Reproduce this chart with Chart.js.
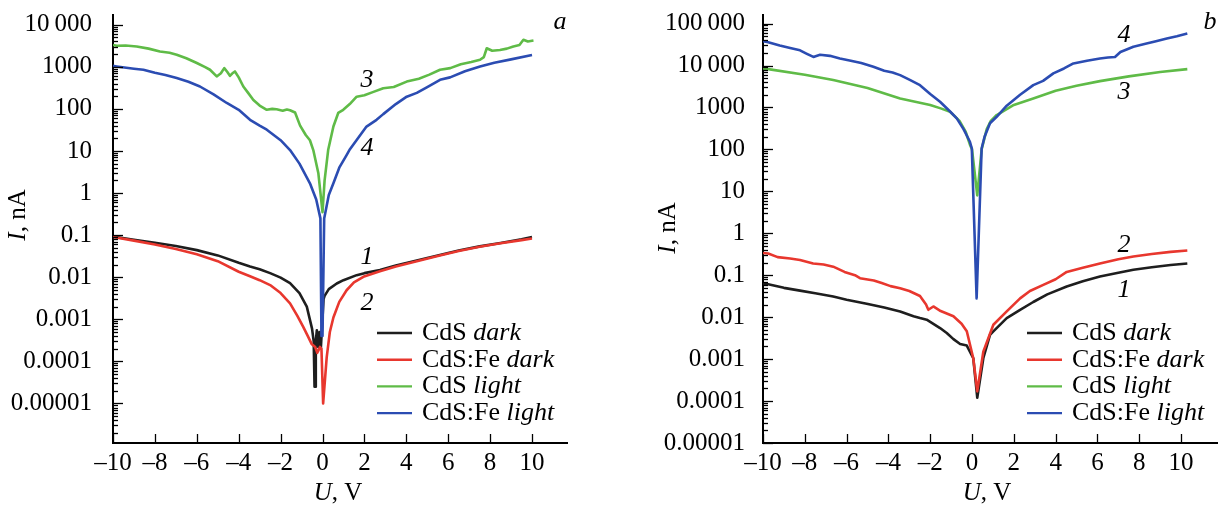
<!DOCTYPE html>
<html>
<head>
<meta charset="utf-8">
<script src="https://cdn.jsdelivr.net/npm/chart.js@4.4.1/dist/chart.umd.min.js"></script>
<style>
  html, body { margin: 0; padding: 0; background: #fff; }
  #wrap { position: relative; width: 1218px; height: 509px; }
  canvas { position: absolute; top: 0; }
  #panelA { left: 0; }
  #panelB { left: 609px; }
</style>
</head>
<body>
<div id="wrap">
  <canvas id="panelA" width="609" height="509"></canvas>
  <canvas id="panelB" width="609" height="509"></canvas>
</div>
<script>
// tick labels
const uTicks = [-10, -8, -6, -4, -2, 0, 2, 4, 6, 8, 10];
const aTickVals = [1e-5, 1e-4, 1e-3, 1e-2, 0.1, 1, 10, 100, 1000, 10000];
const aTickText = ["0.00001", "0.0001", "0.001", "0.01", "0.1", "1", "10", "100", "1000", "10\u2009000"];
const bTickVals = [1e-5, 1e-4, 1e-3, 1e-2, 0.1, 1, 10, 100, 1000, 10000, 100000];
const bTickText = ["0.00001", "0.0001", "0.001", "0.01", "0.1", "1", "10", "100", "1000", "10\u2009000", "100\u2009000"];

// legend / curve labels
const legendNames = ["CdS", "CdS:Fe", "CdS", "CdS:Fe"];
const legendModes = ["dark", "dark", "light", "light"];
const curveNums = ["1", "2", "3", "4"];
const colors = ["#1e1e1e", "#e8372e", "#5fbb47", "#2b4cb2"];

// panel a: U (V) and I (nA)
const aU1 = [-10, -9, -8, -7, -6, -5, -4, -3.46, -3, -2.5, -2, -1.55, -1.1, -0.75, -0.5, -0.42, -0.38, -0.35, -0.32, -0.27, -0.2, -0.14, -0.08, 0.05, 0.1, 0.3, 0.68, 1.0, 1.63, 2.0, 2.74, 3.5, 4.5, 5.5, 6.5, 7.5, 8.5, 9.5, 10];
const aI1 = [0.092, 0.078, 0.066, 0.055, 0.044, 0.033, 0.022, 0.018, 0.0155, 0.0125, 0.0098, 0.0072, 0.0042, 0.002, 0.0006, 0.0003, 0.000025, 0.000025, 0.0003, 0.00055, 0.00022, 0.0005, 0.0002, 0.003, 0.0036, 0.0052, 0.0071, 0.0085, 0.0112, 0.0125, 0.0148, 0.019, 0.025, 0.033, 0.043, 0.054, 0.065, 0.08, 0.09];
const aU2 = [-10, -9, -8, -7, -6, -5, -4, -3.46, -3, -2.5, -2, -1.55, -1.2, -0.92, -0.7, -0.52, -0.35, -0.25, -0.2, -0.12, -0.05, 0.03, 0.2, 0.35, 0.52, 0.8, 1.15, 1.5, 1.95, 2.74, 3.5, 4.5, 5.5, 6.5, 7.5, 8.5, 9.5, 10];
const aI2 = [0.09, 0.074, 0.06, 0.047, 0.035, 0.024, 0.0135, 0.0105, 0.0085, 0.0065, 0.0042, 0.0024, 0.0012, 0.00066, 0.0004, 0.00026, 0.00022, 0.00016, 0.00018, 0.00022, 0.0002, 0.00001, 0.000125, 0.0005, 0.0011, 0.0026, 0.0049, 0.0075, 0.0102, 0.0138, 0.018, 0.024, 0.032, 0.042, 0.053, 0.064, 0.076, 0.083];
const aU3 = [-10, -9.82, -9.4, -8.87, -8.3, -7.76, -7.3, -6.96, -6.5, -6.0, -5.6, -5.37, -5.05, -4.85, -4.69, -4.55, -4.42, -4.3, -4.18, -4.0, -3.78, -3.55, -3.3, -3.0, -2.66, -2.4, -2.19, -1.9, -1.7, -1.55, -1.31, -1.07, -0.8, -0.6, -0.44, -0.2, 0, 0.1, 0.27, 0.52, 0.75, 0.99, 1.3, 1.63, 2.0, 2.4, 2.9, 3.4, 4.02, 4.6, 5.1, 5.61, 6.1, 6.6, 7.1, 7.52, 7.7, 7.84, 8.1, 8.47, 8.8, 9.11, 9.4, 9.59, 9.8, 10.07];
const aI3 = [3300, 3160, 3200, 3040, 2700, 2300, 2150, 1940, 1600, 1230, 980, 850, 590, 700, 930, 760, 610, 700, 775, 560, 340, 240, 163, 120, 95, 100, 98, 90, 97, 93, 82, 40, 24, 18, 10.5, 3, 0.35, 2, 10.5, 38, 80, 95, 130, 195, 210, 250, 310, 330, 445, 520, 650, 850, 930, 1150, 1300, 1470, 1700, 2760, 2400, 2500, 2700, 3050, 3300, 4400, 4000, 4200];
const aU4 = [-10, -9.82, -9, -8.55, -8, -7.5, -6.96, -6.4, -5.85, -5.2, -4.57, -4, -3.46, -3, -2.66, -2, -1.55, -1.1, -0.6, -0.3, -0.1, -0.05, 0, 0.08, 0.3, 0.52, 0.8, 1.15, 1.31, 2.1, 2.58, 2.9, 3.5, 4.02, 4.5, 5.0, 5.61, 6.09, 6.8, 7.52, 8.2, 9.0, 10];
const aI4 = [1050, 1020, 900, 850, 720, 640, 540, 440, 340, 220, 138, 95, 55, 40, 32, 18, 10.5, 5, 1.7, 0.7, 0.25, 0.0004, 0.0004, 0.25, 0.9, 1.7, 4, 8, 11, 38, 55, 75, 130, 195, 240, 330, 490, 560, 780, 1020, 1250, 1500, 1900];

// panel b
const bU1 = [-10, -9.75, -9, -8.23, -7.5, -6.64, -6, -5.04, -4.2, -3.44, -2.8, -2.49, -2.17, -1.53, -1.21, -0.89, -0.57, -0.25, 0.06, 0.25, 0.54, 0.86, 1.02, 1.66, 2.3, 2.93, 3.6, 4.53, 5.3, 6.12, 7.0, 7.72, 8.6, 9.5, 10.3];
const bI1 = [0.062, 0.061, 0.05, 0.043, 0.037, 0.031, 0.026, 0.021, 0.017, 0.0137, 0.0105, 0.0095, 0.0087, 0.0055, 0.0042, 0.003, 0.0023, 0.0021, 0.00105, 0.00012, 0.00105, 0.0038, 0.0046, 0.0095, 0.015, 0.023, 0.035, 0.054, 0.072, 0.093, 0.115, 0.135, 0.155, 0.175, 0.19];
const bU2 = [-10, -9.75, -9.3, -8.7, -8.23, -7.6, -7.1, -6.64, -6.1, -5.6, -5.36, -4.7, -4.32, -3.9, -3.44, -3.0, -2.49, -2.2, -2.09, -1.85, -1.5, -0.89, -0.5, -0.25, 0.06, 0.25, 0.54, 1.02, 1.66, 2.3, 2.77, 3.41, 4.0, 4.53, 5.3, 6.12, 7.0, 7.72, 8.6, 9.5, 10.3];
const bI2 = [0.34, 0.33, 0.27, 0.25, 0.23, 0.19, 0.18, 0.16, 0.12, 0.1, 0.085, 0.075, 0.065, 0.055, 0.049, 0.042, 0.032, 0.02, 0.015, 0.018, 0.014, 0.0105, 0.007, 0.0046, 0.00105, 0.00017, 0.0015, 0.0066, 0.0138, 0.028, 0.042, 0.059, 0.08, 0.12, 0.15, 0.19, 0.24, 0.28, 0.32, 0.36, 0.39];
const bU3 = [-10, -9.75, -8, -6.64, -5, -3.44, -2, -1.5, -1.05, -0.6, -0.3, -0.1, 0, 0.25, 0.46, 0.7, 0.9, 1.18, 2, 2.93, 4, 5, 6.12, 7.5, 9, 10.3];
const bI3 = [8500, 8200, 6000, 4500, 2900, 1630, 1150, 950, 790, 480, 260, 130, 100, 8, 100, 300, 480, 660, 1150, 1630, 2500, 3300, 4240, 5500, 7000, 8200];
const bU4 = [-10, -9.75, -9.2, -8.7, -8.23, -7.9, -7.59, -7.27, -6.8, -6.32, -5.8, -5.3, -4.72, -4.2, -3.8, -3.44, -3.0, -2.49, -2.0, -1.53, -1.05, -0.73, -0.4, -0.1, -0.01, 0.22, 0.46, 0.6, 0.86, 1.18, 1.66, 2.3, 2.93, 3.4, 3.89, 4.4, 4.85, 5.5, 6.12, 6.5, 6.84, 7.1, 7.72, 8.3, 8.8, 9.32, 9.8, 10.3];
const bI4 = [38000, 36000, 30000, 26000, 23000, 19000, 16000, 18000, 17000, 14700, 13000, 11500, 9300, 7500, 6800, 5900, 4600, 3400, 2100, 1370, 800, 550, 300, 152, 105, 0.028, 105, 200, 420, 600, 1100, 2000, 3400, 4300, 6500, 8500, 11200, 13000, 14700, 15500, 16000, 21000, 28000, 33000, 38000, 44000, 50000, 58000];

const FONT = '"Liberation Serif", "Times New Roman", serif';
const TICK_SIZE = 25;
const fontOf = (italic, size) => (italic ? "italic " : "") + size + "px " + FONT;

// draws text made of plain and italic pieces
function richText(ctx, parts, x, y, align, size) {
  let w = 0;
  parts.forEach(([t, it]) => { ctx.font = fontOf(it, size); w += ctx.measureText(t).width; });
  let cx = align === "center" ? x - w / 2 : x;
  ctx.textAlign = "left";
  ctx.textBaseline = "middle";
  ctx.fillStyle = "#000";
  parts.forEach(([t, it]) => {
    ctx.font = fontOf(it, size);
    ctx.fillText(t, cx, y);
    cx += ctx.measureText(t).width;
  });
}

function decor(p) {
  return {
    id: "decor",
    afterDraw(chart) {
      const ctx = chart.ctx;
      const area = chart.chartArea;
      const xs = chart.scales.x;
      const ys = chart.scales.y;
      ctx.save();

      // inward tick marks
      ctx.strokeStyle = "#000";
      ctx.lineWidth = 1.3;
      const lo = Math.floor(Math.log10(ys.min));
      const hi = Math.ceil(Math.log10(ys.max));
      for (let d = lo; d <= hi; d++) {
        for (let m = 1; m <= 9; m++) {
          const v = m * Math.pow(10, d);
          if (v < ys.min || v > ys.max) continue;
          const py = Math.round(ys.getPixelForValue(v)) + 0.5;
          ctx.beginPath();
          ctx.moveTo(area.left, py);
          ctx.lineTo(area.left + (m === 1 ? 10 : 5), py);
          ctx.stroke();
        }
      }
      uTicks.forEach((v) => {
        const px = Math.round(xs.getPixelForValue(v)) + 0.5;
        ctx.beginPath();
        ctx.moveTo(px, area.bottom);
        ctx.lineTo(px, area.bottom - 9);
        ctx.stroke();
      });

      // axis titles
      ctx.save();
      ctx.translate(p.yTitle[0], p.yTitle[1]);
      ctx.rotate(-Math.PI / 2);
      richText(ctx, [["I", true], [", nA", false]], 0, 0, "center", 25);
      ctx.restore();
      richText(ctx, [["U", true], [", V", false]], p.xTitle[0], p.xTitle[1], "center", 25);

      // legend
      legendNames.forEach((name, k) => {
        const y = p.legend[1] + k * 26.7;
        ctx.strokeStyle = colors[k];
        ctx.lineWidth = 2.4;
        ctx.beginPath();
        ctx.moveTo(p.legend[0], y);
        ctx.lineTo(p.legend[0] + 35, y);
        ctx.stroke();
        richText(ctx, [[name + " ", false], [legendModes[k], true]], p.legend[0] + 45, y, "left", 26);
      });

      // curve numbers and panel letter
      curveNums.forEach((n, k) => {
        richText(ctx, [[n, true]], p.nums[k][0], p.nums[k][1], "center", 26);
      });
      richText(ctx, [[p.letter, true]], p.letterPos[0], p.letterPos[1], "center", 26);
      ctx.restore();
    },
  };
}

const pts = (u, i) => u.map((x, k) => ({ x: x, y: i[k] }));

function makePanel(id, p) {
  const drawOrder = [3, 1, 2, 0];
  new Chart(document.getElementById(id), {
    type: "line",
    data: {
      datasets: p.series.map((s, k) => ({
        data: pts(s[0], s[1]),
        borderColor: colors[k],
        borderWidth: 2.6,
        pointRadius: 0,
        tension: 0,
        borderJoinStyle: "round",
        order: drawOrder[k],
      })),
    },
    options: {
      responsive: false,
      animation: false,
      layout: { padding: { top: 15, right: p.padRight, left: 0, bottom: 0 } },
      plugins: { legend: { display: false }, tooltip: { enabled: false } },
      scales: {
        x: {
          type: "linear",
          min: -10,
          max: p.xMax,
          afterBuildTicks: (s) => { s.ticks = uTicks.map((v) => ({ value: v })); },
          afterFit: (s) => { s.height = 66; s.paddingLeft = 0; s.paddingRight = 0; },
          grid: { display: false },
          border: { color: "#000", width: 2 },
          ticks: {
            color: "#000",
            font: { family: FONT, size: TICK_SIZE },
            padding: -3,
            maxRotation: 0,
            autoSkip: false,
            callback: (v) => (v < 0 ? "\u2013" + Math.abs(v) : String(v)),
          },
        },
        y: {
          type: "logarithmic",
          min: p.yMin,
          max: p.yMax,
          afterBuildTicks: (s) => { s.ticks = p.tickVals.map((v) => ({ value: v })); },
          afterFit: (s) => { s.width = p.yWidth; s.paddingTop = 0; s.paddingBottom = 0; },
          grid: { display: false },
          border: { color: "#000", width: 2 },
          ticks: {
            color: "#000",
            font: { family: FONT, size: TICK_SIZE },
            padding: p.yPad,
            autoSkip: false,
            callback: (v, idx) => p.tickText[idx],
          },
        },
      },
    },
    plugins: [decor(p)],
  });
}

makePanel("panelA", {
  series: [[aU1, aI1], [aU2, aI2], [aU3, aI3], [aU4, aI4]],
  yMin: 1.15e-6, yMax: 1.7e4, xMax: 11.67,
  tickVals: aTickVals, tickText: aTickText,
  yWidth: 113, padRight: 42, yPad: 13,
  yTitle: [18, 215], xTitle: [338, 493],
  legend: [377, 333],
  nums: [[367, 257], [367, 303], [367, 80], [367, 148]],
  letter: "a", letterPos: [560, 22],
});

makePanel("panelB", {
  series: [[bU1, bI1], [bU2, bI2], [bU3, bI3], [bU4, bI4]],
  yMin: 1e-5, yMax: 1.6e5, xMax: 11.72,
  tickVals: bTickVals, tickText: bTickText,
  yWidth: 154, padRight: 1, yPad: 10,
  yTitle: [59, 228], xTitle: [378, 493],
  legend: [418, 333],
  nums: [[515, 290], [515, 245], [515, 92], [515, 35]],
  letter: "b", letterPos: [601, 22],
});
</script>
</body>
</html>
